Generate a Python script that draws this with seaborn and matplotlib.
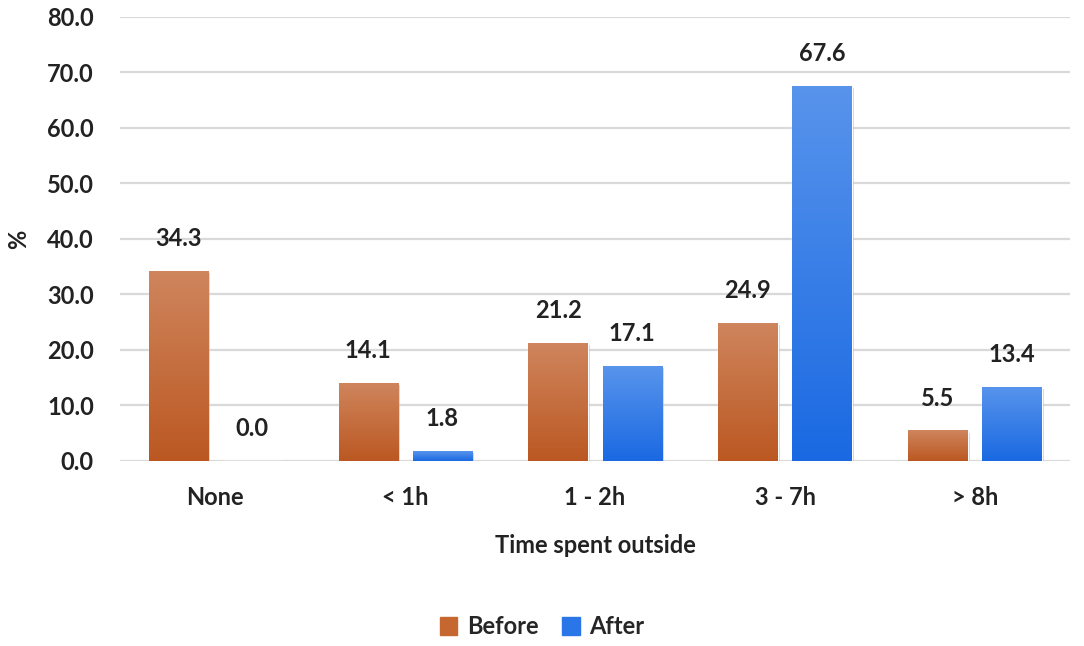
import pandas as pd
import numpy as np
import seaborn as sns
import matplotlib.pyplot as plt
import matplotlib.patheffects as pe
from matplotlib.colors import LinearSegmentedColormap
from matplotlib.patches import Patch

categories = ["None", "< 1h", "1 - 2h", "3 - 7h", "> 8h"]
before = [34.3, 14.1, 21.2, 24.9, 5.5]
after = [0.0, 1.8, 17.1, 67.6, 13.4]
series = ["Before", "After"]

df = pd.DataFrame({
    "time": categories * 2,
    "pct": before + after,
    "when": ["Before"] * len(categories) + ["After"] * len(categories),
})

sns.set_style("white")
plt.rcParams["font.family"] = ["Lato", "DejaVu Sans"]
plt.rcParams["font.weight"] = "bold"

fig = plt.figure(figsize=(10.84, 6.46), dpi=100)
ax = fig.add_axes([0.111, 0.2864, 0.876, 0.6873])

pal = {"Before": "#C5672F", "After": "#2A76E8"}
sns.barplot(data=df, x="time", y="pct", hue="when", order=categories,
            hue_order=series, palette=pal, width=0.78, gap=0.2,
            legend=False, ax=ax)

grads = {
    "Before": LinearSegmentedColormap.from_list("o", ["#BB5822", "#CF855D"]),
    "After": LinearSegmentedColormap.from_list("b", ["#1A69E2", "#5894EC"]),
}
grad = np.linspace(0, 1, 256).reshape(-1, 1)
shadow = [pe.SimplePatchShadow(offset=(1.5, -1.5), shadow_rgbFace="#999999",
                               alpha=0.45), pe.Normal()]
for cont, name in zip(ax.containers, series):
    for bar in cont:
        x0, y0 = bar.get_x(), bar.get_y()
        w, h = bar.get_width(), bar.get_height()
        if h <= 0:
            continue
        bar.set_zorder(2)
        bar.set_path_effects(shadow)
        im = ax.imshow(grad, cmap=grads[name], origin="lower", aspect="auto",
                       extent=[x0, x0 + w, y0, y0 + h], zorder=3)
        im.set_clip_path(bar)
    ax.bar_label(cont, fmt="%.1f", padding=15, fontsize=17,
                 fontweight="bold", color="#222222")

ax.set_xlim(-0.5, 4.5)
ax.set_ylim(0, 80)
ax.set_yticks(np.arange(0, 81, 10))
ax.set_yticklabels([f"{v:.1f}" for v in np.arange(0, 81, 10)])
ax.yaxis.grid(True, color="#D9D9D9", linewidth=1.6)
ax.set_axisbelow(True)
sns.despine(ax=ax, left=True, bottom=True)
ax.tick_params(axis="both", length=0, labelsize=17, labelcolor="#222222")
ax.tick_params(axis="y", pad=19)
ax.tick_params(axis="x", pad=18)
ax.set_xlabel("Time spent outside", fontsize=17, fontweight="bold",
              color="#222222", labelpad=18)
ax.set_ylabel("%", fontsize=17, fontweight="bold", color="#222222",
              labelpad=12)

handles = [Patch(facecolor="#C5672F", edgecolor="#C5672F"),
           Patch(facecolor="#2A76E8", edgecolor="#2A76E8")]
fig.legend(handles, series, loc="center", bbox_to_anchor=(0.5, 0.03),
           ncol=2, frameon=False, fontsize=17, handlelength=0.75,
           handleheight=0.75, handletextpad=0.4, columnspacing=1.0)

fig.savefig("out.png", dpi=100)
